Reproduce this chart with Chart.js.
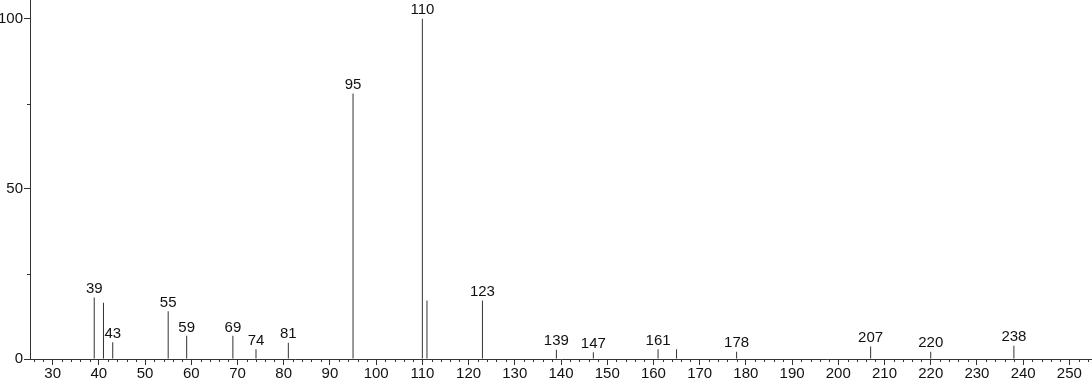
<!DOCTYPE html>
<html>
<head>
<meta charset="utf-8">
<script src="https://cdn.jsdelivr.net/npm/chart.js@4/dist/chart.umd.min.js"></script>
<style>
  html, body { margin: 0; padding: 0; background: #fff; }
  #wrap { width: 1092px; height: 384px; }
</style>
</head>
<body>
<div id="wrap"><canvas id="spec" width="1092" height="384"></canvas></div>
<script>
// m/z values and relative intensities
const mz = [39, 41, 43, 55, 59, 69, 74, 81, 95, 110, 111, 123, 139, 147, 161, 165, 178, 207, 220, 238];
const intensity = [18.1, 16.5, 4.9, 14.0, 6.8, 6.8, 2.9, 4.8, 78.0, 100, 17.2, 17.2, 2.7, 2.0, 2.9, 2.9, 2.1, 3.7, 2.1, 3.9];
// peaks that carry a label
const labelled = [39, 43, 55, 59, 69, 74, 81, 95, 110, 123, 139, 147, 161, 178, 207, 220, 238];

const xTicks = [30, 40, 50, 60, 70, 80, 90, 100, 110, 120, 130, 140, 150, 160, 170, 180, 190, 200, 210, 220, 230, 240, 250];
const yTicks = [0, 50, 100];
const yMinor = [25, 75];

const FONT = '"Liberation Sans Narrow", "Arial Narrow", Arial, sans-serif';
const FSIZE = 15;
const INK = '#333';

// peak labels and the short minor ticks
const extras = {
  id: 'extras',
  afterDatasetsDraw(chart) {
    const ctx = chart.ctx;
    const meta = chart.getDatasetMeta(0);
    ctx.save();
    ctx.fillStyle = '#111';
    ctx.font = FSIZE + 'px ' + FONT;
    ctx.textAlign = 'center';
    ctx.textBaseline = 'bottom';
    meta.data.forEach((bar, i) => {
      if (labelled.includes(mz[i])) ctx.fillText(String(mz[i]), bar.x, bar.y - 1);
    });

    const xs = chart.scales.x, ys = chart.scales.y;
    const base = chart.chartArea.bottom;
    const left = chart.chartArea.left;
    ctx.strokeStyle = INK;
    ctx.lineWidth = 1;
    ctx.beginPath();
    for (let v = 26; v <= 254; v += 2) {
      if (v % 10 === 0) continue;
      const px = Math.round(xs.getPixelForValue(v)) + 0.5;
      ctx.moveTo(px, base);
      ctx.lineTo(px, base + 3);
    }
    yMinor.forEach(v => {
      const py = Math.round(ys.getPixelForValue(v)) + 0.5;
      ctx.moveTo(left, py);
      ctx.lineTo(left - 3, py);
    });
    ctx.stroke();
    ctx.restore();
  }
};

new Chart(document.getElementById('spec'), {
  type: 'bar',
  data: {
    datasets: [{
      data: mz.map((m, i) => ({ x: m, y: intensity[i] })),
      backgroundColor: INK,
      borderWidth: 0,
      barThickness: 1,
      inflateAmount: 0
    }]
  },
  options: {
    responsive: false,
    animation: false,
    layout: { padding: 0 },
    plugins: { legend: { display: false }, tooltip: { enabled: false } },
    scales: {
      x: {
        type: 'linear',
        offset: false,
        min: 25.1,
        max: 254.9,
        afterBuildTicks: s => { s.ticks = xTicks.map(v => ({ value: v })); },
        afterFit: s => { s.height = 25; s.paddingLeft = 0; s.paddingRight = 0; },
        grid: { drawOnChartArea: false, offset: false, tickLength: 6, color: INK },
        border: { display: true, color: INK },
        ticks: { color: '#111', font: { family: FONT, size: FSIZE }, padding: 0, maxRotation: 0, autoSkip: false }
      },
      y: {
        min: 0,
        max: 105.5,
        afterBuildTicks: s => { s.ticks = yTicks.map(v => ({ value: v })); },
        afterFit: s => { s.width = 30; s.paddingTop = 0; s.paddingBottom = 0; },
        grid: { drawOnChartArea: false, tickLength: 6, color: INK },
        border: { display: true, color: INK },
        ticks: { color: '#111', font: { family: FONT, size: FSIZE }, padding: 1 }
      }
    }
  },
  plugins: [extras]
});
</script>
</body>
</html>
